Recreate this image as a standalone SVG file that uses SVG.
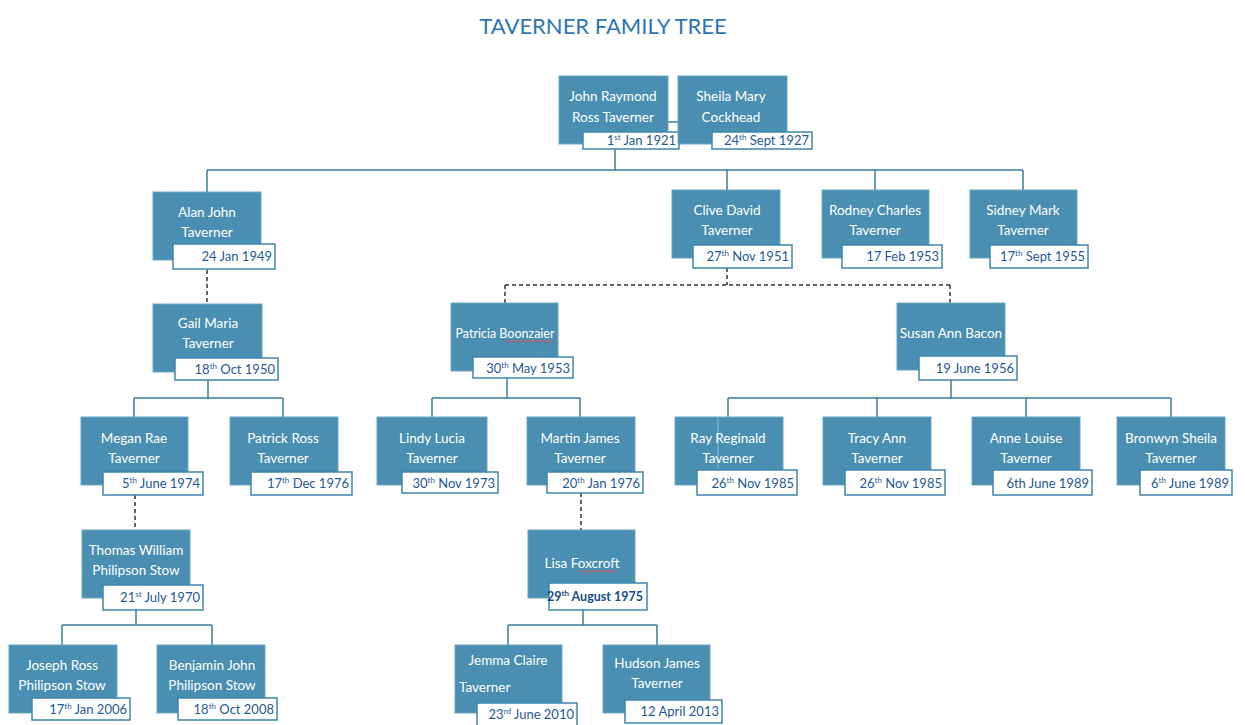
<svg xmlns="http://www.w3.org/2000/svg" width="1245" height="725" viewBox="0 0 1245 725">
<style>
.bg{fill:#ffffff}
.title{font-family:Lato,"Liberation Sans",sans-serif;font-size:22px;fill:#2e75b6}
.box{fill:#4a8fb1;stroke:#6aa6c4;stroke-width:1}
.dbox{fill:#ffffff;stroke:#3f86ad;stroke-width:1.5}
.name{font-family:Lato,"Liberation Sans",sans-serif;font-size:13.5px;fill:#ffffff;text-anchor:middle}
.left{text-anchor:start}
.small{font-size:12.5px}
.date{font-family:Lato,"Liberation Sans",sans-serif;font-size:13px;fill:#1f5a96;text-anchor:end}
.strong{fill:#184d86;font-weight:bold;font-size:12.5px}
.conn{fill:none;stroke:#3b7ca0;stroke-width:1.5}
.dash{fill:none;stroke:#333333;stroke-width:1.5;stroke-dasharray:4 3}
.squig{fill:none;stroke:#d9534f;stroke-width:1}
</style>
<rect class="bg" x="0" y="0" width="1245" height="725"/>
<text class="title" x="603" y="34" text-anchor="middle">TAVERNER FAMILY TREE</text>

<g id="connectors">
  <path class="conn" d="M668 122H678"/>
  <path class="conn" d="M615 149V170M207 170H1023M207 170V192M727 170V190M875 170V190M1023 170V190"/>
  <path class="dash" d="M207 270V304"/>
  <path class="conn" d="M208 380V398M134 398H283M134 398V417M283 398V417"/>
  <path class="dash" d="M727 268V285M505 285H950M505 285V303M950 285V303"/>
  <path class="conn" d="M507 378V398M432 398H580M432 398V417M580 398V417"/>
  <path class="conn" d="M951 380V398M728 398H1171M728 398V417M877 398V417M1026 398V417M1171 398V417"/>
  <path class="dash" d="M135 495V530"/>
  <path class="conn" d="M136 610V625M62 625H212M62 625V645M212 625V645"/>
  <path class="dash" d="M581 493V530"/>
  <path class="conn" d="M583 610V625M508 625H657M508 625V645M657 625V645"/>
</g>

<g id="john">
  <rect class="box" x="559" y="76" width="109" height="68"/>
  <text class="name" x="613" y="101">John Raymond</text>
  <text class="name" x="613" y="122">Ross Taverner</text>
  <rect class="dbox" x="583" y="132" width="96" height="17"/>
  <text class="date" x="676" y="145">1<tspan font-size="8" dy="-5">st</tspan><tspan dy="5"> Jan 1921</tspan></text>
</g>
<g id="sheila">
  <rect class="box" x="678" y="76" width="109" height="68"/>
  <text class="name" x="731" y="101">Sheila Mary</text>
  <text class="name" x="731" y="122">Cockhead</text>
  <rect class="dbox" x="712" y="132" width="100" height="17"/>
  <text class="date" x="809" y="145">24<tspan font-size="8" dy="-5">th</tspan><tspan dy="5"> Sept 1927</tspan></text>
</g>

<g id="alan">
  <rect class="box" x="153" y="192" width="108" height="68"/>
  <text class="name" x="207" y="217">Alan John</text>
  <text class="name" x="207" y="237">Taverner</text>
  <rect class="dbox" x="173" y="244" width="102" height="25"/>
  <text class="date" x="272" y="261">24 Jan 1949</text>
</g>
<g id="clive">
  <rect class="box" x="672" y="190" width="108" height="68"/>
  <text class="name" x="727" y="215">Clive David</text>
  <text class="name" x="727" y="235">Taverner</text>
  <rect class="dbox" x="693" y="245" width="99" height="23"/>
  <text class="date" x="789" y="261">27<tspan font-size="8" dy="-5">th</tspan><tspan dy="5"> Nov 1951</tspan></text>
</g>
<g id="rodney">
  <rect class="box" x="822" y="190" width="107" height="68"/>
  <text class="name" x="875" y="215">Rodney Charles</text>
  <text class="name" x="875" y="235">Taverner</text>
  <rect class="dbox" x="842" y="245" width="100" height="23"/>
  <text class="date" x="939" y="261">17 Feb 1953</text>
</g>
<g id="sidney">
  <rect class="box" x="970" y="190" width="107" height="68"/>
  <text class="name" x="1023" y="215">Sidney Mark</text>
  <text class="name" x="1023" y="235">Taverner</text>
  <rect class="dbox" x="990" y="245" width="98" height="23"/>
  <text class="date" x="1085" y="261">17<tspan font-size="8" dy="-5">th</tspan><tspan dy="5"> Sept 1955</tspan></text>
</g>

<g id="gail">
  <rect class="box" x="153" y="304" width="109" height="68"/>
  <text class="name" x="208" y="328">Gail Maria</text>
  <text class="name" x="208" y="348">Taverner</text>
  <rect class="dbox" x="175" y="358" width="103" height="22"/>
  <text class="date" x="275" y="374">18<tspan font-size="8" dy="-5">th</tspan><tspan dy="5"> Oct 1950</tspan></text>
</g>
<g id="patricia">
  <rect class="box" x="451" y="303" width="107" height="68"/>
  <text class="name small" x="505" y="338">Patricia Boonzaier</text>
  <path class="squig" d="M505 342l2 -1.5l2 1.5l2 -1.5l2 1.5l2 -1.5l2 1.5l2 -1.5l2 1.5l2 -1.5l2 1.5l2 -1.5l2 1.5l2 -1.5l2 1.5l2 -1.5l2 1.5l2 -1.5l2 1.5l2 -1.5l2 1.5l2 -1.5l2 1.5l2 -1.5l2 1.5"/>
  <rect class="dbox" x="473" y="357" width="100" height="21"/>
  <text class="date" x="570" y="373">30<tspan font-size="8" dy="-5">th</tspan><tspan dy="5"> May 1953</tspan></text>
</g>
<g id="susan">
  <rect class="box" x="897" y="303" width="108" height="67"/>
  <text class="name" x="951" y="338">Susan Ann Bacon</text>
  <rect class="dbox" x="919" y="356" width="98" height="24"/>
  <text class="date" x="1014" y="373">19 June 1956</text>
</g>

<g id="megan">
  <rect class="box" x="81" y="417" width="107" height="68"/>
  <text class="name" x="134" y="443">Megan Rae</text>
  <text class="name" x="134" y="463">Taverner</text>
  <rect class="dbox" x="103" y="472" width="100" height="23"/>
  <text class="date" x="200" y="488">5<tspan font-size="8" dy="-5">th</tspan><tspan dy="5"> June 1974</tspan></text>
</g>
<g id="patrick">
  <rect class="box" x="230" y="417" width="108" height="68"/>
  <text class="name" x="283" y="443">Patrick Ross</text>
  <text class="name" x="283" y="463">Taverner</text>
  <rect class="dbox" x="251" y="472" width="101" height="23"/>
  <text class="date" x="349" y="488">17<tspan font-size="8" dy="-5">th</tspan><tspan dy="5"> Dec 1976</tspan></text>
</g>
<g id="lindy">
  <rect class="box" x="377" y="417" width="110" height="68"/>
  <text class="name" x="432" y="443">Lindy Lucia</text>
  <text class="name" x="432" y="463">Taverner</text>
  <rect class="dbox" x="402" y="472" width="96" height="21"/>
  <text class="date" x="495" y="488">30<tspan font-size="8" dy="-5">th</tspan><tspan dy="5"> Nov 1973</tspan></text>
</g>
<g id="martin">
  <rect class="box" x="527" y="417" width="108" height="68"/>
  <text class="name" x="580" y="443">Martin James</text>
  <text class="name" x="580" y="463">Taverner</text>
  <rect class="dbox" x="547" y="472" width="96" height="21"/>
  <text class="date" x="640" y="488">20<tspan font-size="8" dy="-5">th</tspan><tspan dy="5"> Jan 1976</tspan></text>
</g>
<g id="ray">
  <rect class="box" x="675" y="417" width="108" height="68"/>
  <line x1="718" y1="417" x2="718" y2="470" stroke="#8fb6cb" stroke-width="1"/>
  <text class="name" x="728" y="443">Ray Reginald</text>
  <text class="name" x="728" y="463">Taverner</text>
  <rect class="dbox" x="697" y="470" width="100" height="25"/>
  <text class="date" x="794" y="488">26<tspan font-size="8" dy="-5">th</tspan><tspan dy="5"> Nov 1985</tspan></text>
</g>
<g id="tracy">
  <rect class="box" x="823" y="417" width="108" height="68"/>
  <text class="name" x="877" y="443">Tracy Ann</text>
  <text class="name" x="877" y="463">Taverner</text>
  <rect class="dbox" x="845" y="470" width="100" height="25"/>
  <text class="date" x="942" y="488">26<tspan font-size="8" dy="-5">th</tspan><tspan dy="5"> Nov 1985</tspan></text>
</g>
<g id="anne">
  <rect class="box" x="972" y="417" width="108" height="68"/>
  <text class="name" x="1026" y="443">Anne Louise</text>
  <text class="name" x="1026" y="463">Taverner</text>
  <rect class="dbox" x="993" y="470" width="99" height="25"/>
  <text class="date" x="1089" y="488">6th June 1989</text>
</g>
<g id="bronwyn">
  <rect class="box" x="1117" y="417" width="108" height="68"/>
  <text class="name" x="1171" y="443">Bronwyn Sheila</text>
  <text class="name" x="1171" y="463">Taverner</text>
  <rect class="dbox" x="1140" y="470" width="92" height="25"/>
  <text class="date" x="1229" y="488">6<tspan font-size="8" dy="-5">th</tspan><tspan dy="5"> June 1989</tspan></text>
</g>

<g id="thomas">
  <rect class="box" x="82" y="530" width="108" height="68"/>
  <text class="name" x="136" y="555">Thomas William</text>
  <text class="name" x="136" y="575">Philipson Stow</text>
  <rect class="dbox" x="103" y="585" width="100" height="25"/>
  <text class="date" x="200" y="602">21<tspan font-size="8" dy="-5">st</tspan><tspan dy="5"> July 1970</tspan></text>
</g>
<g id="lisa">
  <rect class="box" x="528" y="530" width="107" height="68"/>
  <text class="name" x="582" y="568">Lisa Foxcroft</text>
  <path class="squig" d="M579 572l2 -1.5l2 1.5l2 -1.5l2 1.5l2 -1.5l2 1.5l2 -1.5l2 1.5l2 -1.5l2 1.5l2 -1.5l2 1.5l2 -1.5l2 1.5l2 -1.5l2 1.5l2 -1.5l2 1.5l2 -1.5"/>
  <rect class="dbox" x="549" y="583" width="98" height="27"/>
  <text class="date strong" x="643" y="601">29<tspan font-size="8" dy="-5">th</tspan><tspan dy="5"> August 1975</tspan></text>
</g>

<g id="joseph">
  <rect class="box" x="9" y="645" width="108" height="68"/>
  <text class="name" x="62" y="670">Joseph Ross</text>
  <text class="name" x="62" y="690">Philipson Stow</text>
  <rect class="dbox" x="32" y="698" width="98" height="22"/>
  <text class="date" x="127" y="714">17<tspan font-size="8" dy="-5">th</tspan><tspan dy="5"> Jan 2006</tspan></text>
</g>
<g id="benjamin">
  <rect class="box" x="157" y="645" width="108" height="68"/>
  <text class="name" x="212" y="670">Benjamin John</text>
  <text class="name" x="212" y="690">Philipson Stow</text>
  <rect class="dbox" x="178" y="698" width="99" height="22"/>
  <text class="date" x="274" y="714">18<tspan font-size="8" dy="-5">th</tspan><tspan dy="5"> Oct 2008</tspan></text>
</g>
<g id="jemma">
  <rect class="box" x="455" y="645" width="107" height="68"/>
  <text class="name" x="508" y="665">Jemma Claire</text>
  <text class="name left" x="459" y="692">Taverner</text>
  <rect class="dbox" x="477" y="703" width="100" height="24"/>
  <text class="date" x="574" y="719">23<tspan font-size="8" dy="-5">rd</tspan><tspan dy="5"> June 2010</tspan></text>
</g>
<g id="hudson">
  <rect class="box" x="603" y="645" width="107" height="68"/>
  <text class="name" x="657" y="668">Hudson James</text>
  <text class="name" x="657" y="688">Taverner</text>
  <rect class="dbox" x="625" y="700" width="97" height="23"/>
  <text class="date" x="719" y="716">12 April 2013</text>
</g>
</svg>
